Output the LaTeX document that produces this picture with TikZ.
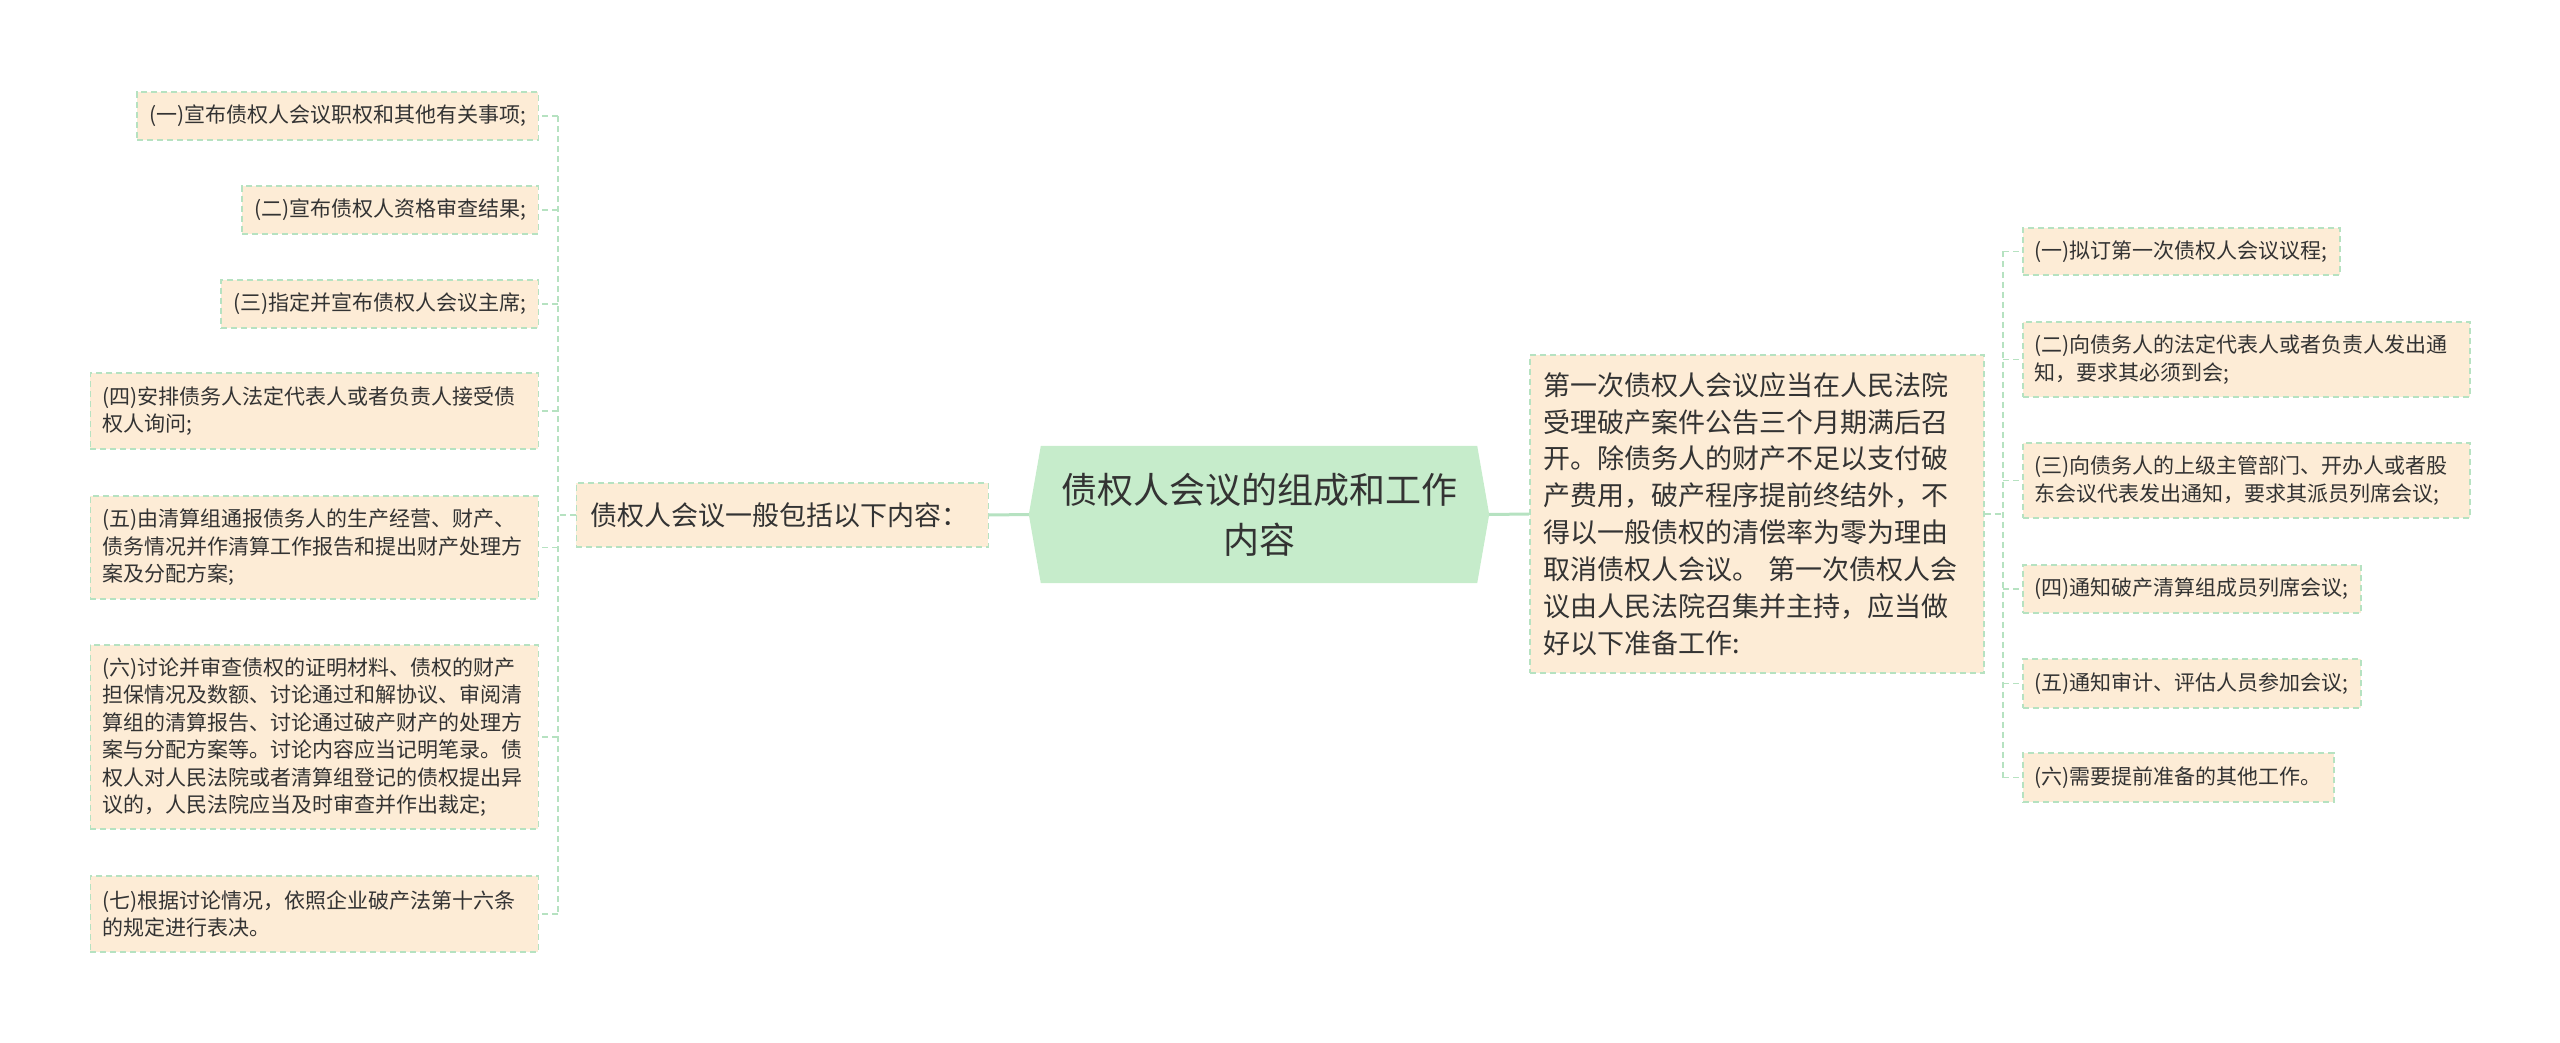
\documentclass[tikz,border=0pt]{standalone}
\usepackage{fontspec}
\setmainfont{Noto Sans CJK SC}
\pgfdeclarelayer{background}
\pgfsetlayers{background,main}
\definecolor{lineg}{RGB}{182,226,193}
\definecolor{peach}{RGB}{253,236,214}
\definecolor{rootfill}{RGB}{198,236,203}
\definecolor{txt}{RGB}{51,51,51}
\tikzset{
  leaf/.style={draw=lineg, fill=peach, line width=1.5pt, dash pattern=on 6pt off 4pt,
    font=\fontsize{21}{27.5}\selectfont, text=txt, inner xsep=12pt, inner ysep=0pt, align=left},
  branch/.style={leaf, inner xsep=14pt},
  conn/.style={draw=lineg, line width=1.5pt, dash pattern=on 6pt off 4pt},
  mainconn/.style={draw=lineg, line width=3pt},
}
\begin{document}
\begin{tikzpicture}[x=1pt,y=-1pt]
\useasboundingbox (0,0) rectangle (2560,1043);
% root
\node[font=\fontsize{36}{50}\selectfont, align=center, text=txt, minimum width=460pt, minimum height=137pt, inner sep=0pt] (root) at (1259,514.5) {债权人会议的组成和工作\\内容};
\begin{pgfonlayer}{background}
\fill[rootfill] ([xshift=12pt]root.north west) -- ([xshift=-12pt]root.north east) -- (root.east) -- ([xshift=-12pt]root.south east) -- ([xshift=12pt]root.south west) -- (root.west) -- cycle;
\end{pgfonlayer}
% branches
\node[branch, anchor=east, text width=384pt, minimum height=64pt, font=\fontsize{27}{32}\selectfont] (lb) at (989,515) {债权人会议一般包括以下内容：};
\node[branch, anchor=west, text width=426pt, minimum height=318pt, font=\fontsize{27}{36.9}\selectfont] (rb) at (1529,514) {第一次债权人会议应当在人民法院\\受理破产案件公告三个月期满后召\\开。除债务人的财产不足以支付破\\产费用，破产程序提前终结外，不\\得以一般债权的清偿率为零为理由\\取消债权人会议。 第一次债权人会\\议由人民法院召集并主持，应当做\\好以下准备工作:};
% left leaves
\node[leaf, anchor=east, minimum height=48pt] (l1) at (539,116) {(一)宣布债权人会议职权和其他有关事项;};
\node[leaf, anchor=east, minimum height=48pt] (l2) at (539,210) {(二)宣布债权人资格审查结果;};
\node[leaf, anchor=east, minimum height=48pt] (l3) at (539,304) {(三)指定并宣布债权人会议主席;};
\node[leaf, anchor=east, text width=424pt, minimum height=76pt] (l4) at (539,411) {(四)安排债务人法定代表人或者负责人接受债\\权人询问;};
\node[leaf, anchor=east, text width=424pt, minimum height=103pt] (l5) at (539,547.5) {(五)由清算组通报债务人的生产经营、财产、\\债务情况并作清算工作报告和提出财产处理方\\案及分配方案;};
\node[leaf, anchor=east, text width=424pt, minimum height=184pt] (l6) at (539,737) {(六)讨论并审查债权的证明材料、债权的财产\\担保情况及数额、讨论通过和解协议、审阅清\\算组的清算报告、讨论通过破产财产的处理方\\案与分配方案等。讨论内容应当记明笔录。债\\权人对人民法院或者清算组登记的债权提出异\\议的，人民法院应当及时审查并作出裁定;};
\node[leaf, anchor=east, text width=424pt, minimum height=76pt] (l7) at (539,914) {(七)根据讨论情况，依照企业破产法第十六条\\的规定进行表决。};
% right leaves
\node[leaf, anchor=west, minimum height=47pt] (r1) at (2022,251.5) {(一)拟订第一次债权人会议议程;};
\node[leaf, anchor=west, text width=423pt, minimum height=75pt] (r2) at (2022,359.5) {(二)向债务人的法定代表人或者负责人发出通\\知，要求其必须到会;};
\node[leaf, anchor=west, text width=423pt, minimum height=75pt] (r3) at (2022,480.5) {(三)向债务人的上级主管部门、开办人或者股\\东会议代表发出通知，要求其派员列席会议;};
\node[leaf, anchor=west, minimum height=48pt] (r4) at (2022,589) {(四)通知破产清算组成员列席会议;};
\node[leaf, anchor=west, minimum height=49pt] (r5) at (2022,683.5) {(五)通知审计、评估人员参加会议;};
\node[leaf, anchor=west, minimum height=49pt] (r6) at (2022,777.5) {(六)需要提前准备的其他工作。};
% connectors
\draw[mainconn] (root.west) -- (lb.east);
\draw[mainconn] (root.east) -- (rb.west);
\coordinate (jl) at (558,515);
\coordinate (jr) at (2003,514);
\draw[conn] (lb.west) -- (jl);
\draw[conn] (rb.east) -- (jr);
\draw[conn] (jl |- l1.east) -- (jl |- l7.east);
\draw[conn] (jr |- r1.west) -- (jr |- r6.west);
\foreach \n in {l1,l2,l3,l4,l5,l6,l7} \draw[conn] (jl |- \n.east) -- (\n.east);
\foreach \n in {r1,r2,r3,r4,r5,r6} \draw[conn] (jr |- \n.west) -- (\n.west);
\end{tikzpicture}
\end{document}
